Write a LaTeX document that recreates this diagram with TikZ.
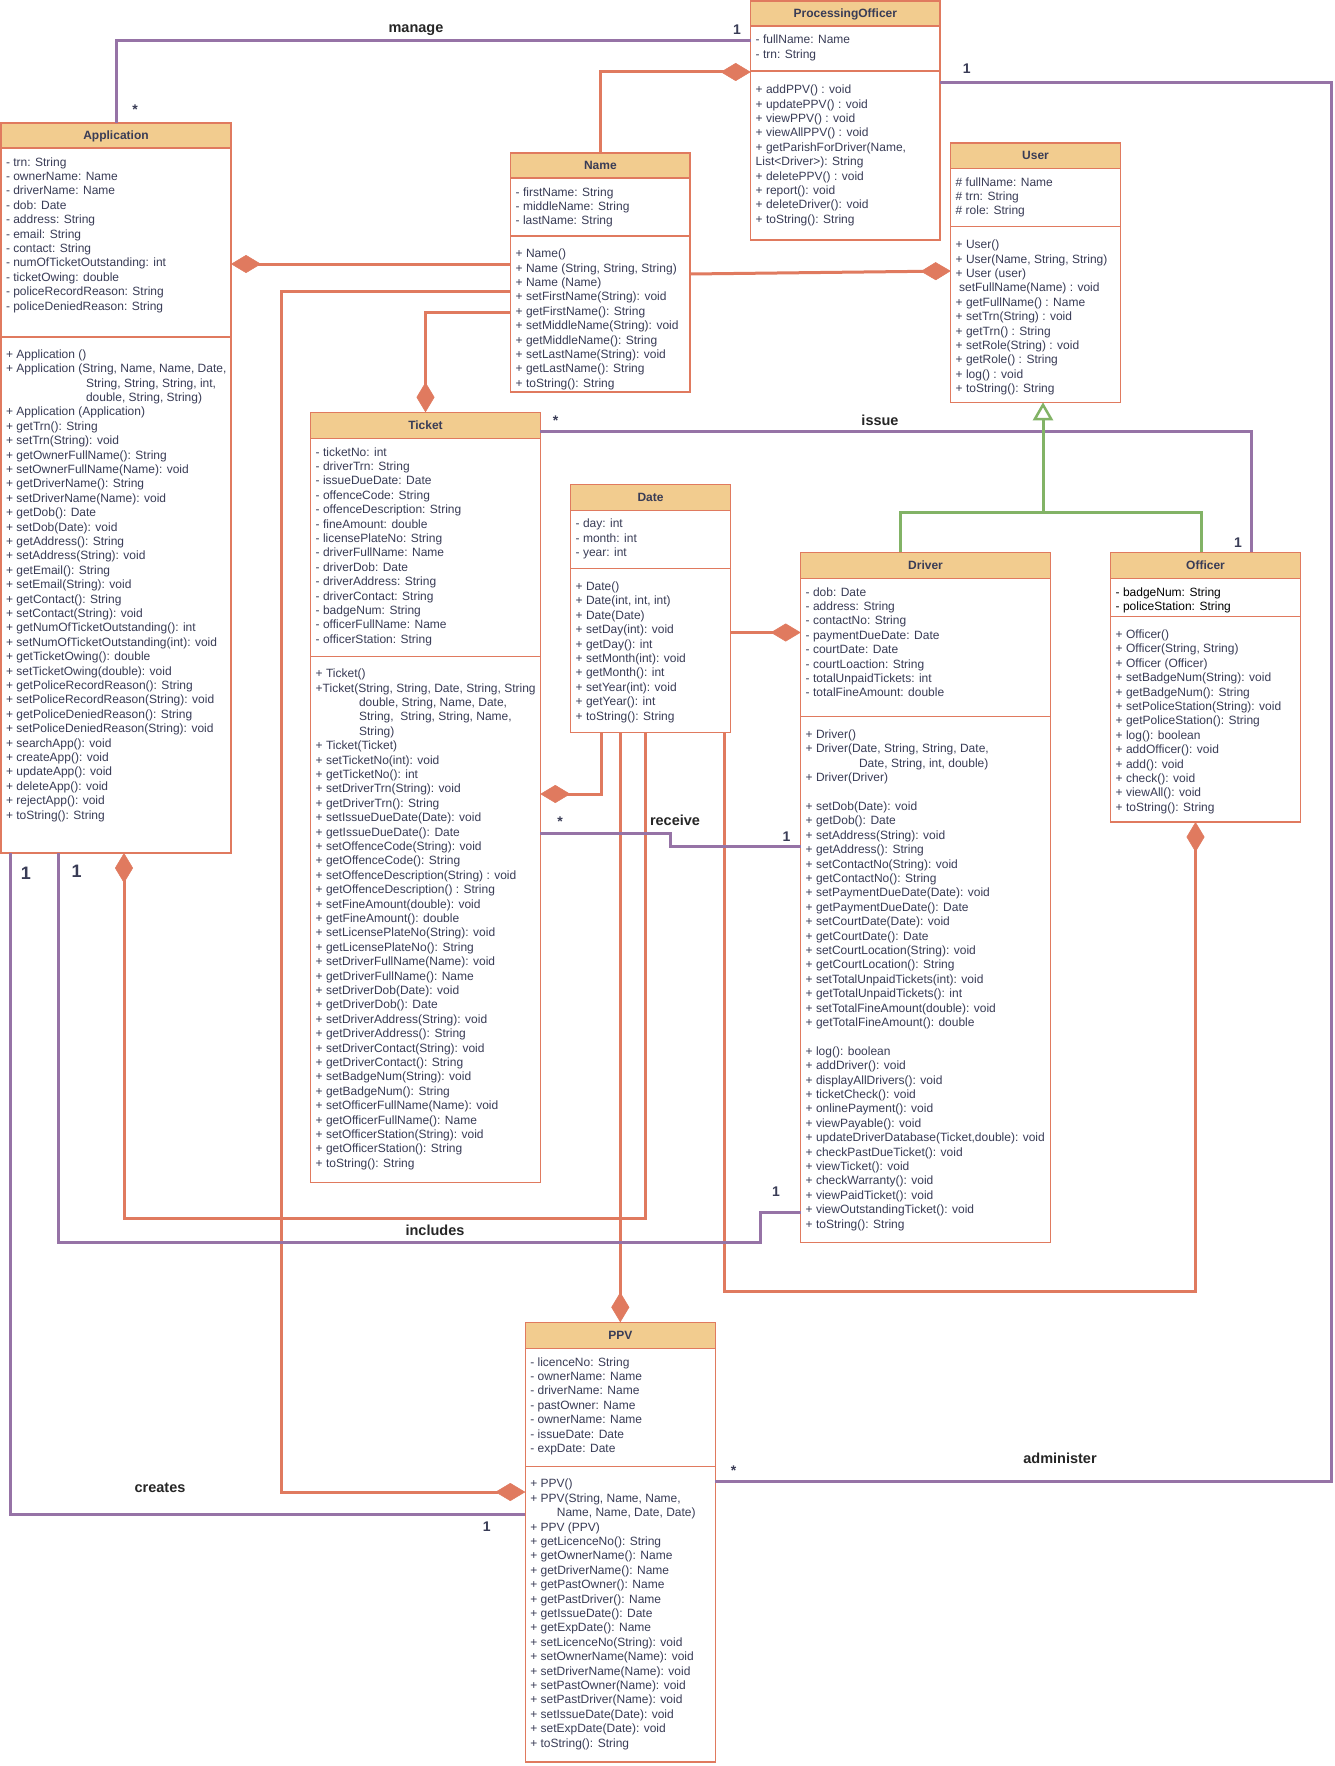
\documentclass[tikz,border=0pt]{standalone}
\usepackage{fontspec}
\setmainfont{Liberation Sans}
\usetikzlibrary{arrows.meta,fit}
\definecolor{hdr}{HTML}{F2CC8F}
\definecolor{brd}{HTML}{E07A5F}
\definecolor{txt}{HTML}{393C56}
\definecolor{pur}{HTML}{9673A6}
\definecolor{grn}{HTML}{82B366}
\newcommand{\umlcls}[8]{%
  \fill[hdr] (#2,#3) rectangle (#4,#5);
  \draw[boxline] (#2,#5) -- (#4,#5) (#2,#6) -- (#4,#6);
  \node[classbox, fit={(#2,#3) (#4,#7)}] (#1) {};
  \node[hdrtext] (#1-t) at ({(#2+#4)/2},{(#3+#5)/2+4.3}) {#8};
}
\begin{document}
\begin{tikzpicture}[x=1pt,y=-1pt,
  classbox/.style={draw=brd,line width=1.2pt,inner sep=0pt,outer sep=0pt},
  boxline/.style={draw=brd,line width=1.2pt},
  hdrtext/.style={font=\fontsize{12pt}{14.4pt}\selectfont\bfseries,text=txt,inner sep=0pt,anchor=base},
  members/.style={font=\fontsize{12pt}{14.4pt}\selectfont,text=txt,align=left,anchor=north west,inner sep=0pt},
  lbl/.style={font=\fontsize{14.5pt}{16pt}\selectfont\bfseries,text=black!85,inner sep=0pt},
  mult/.style={font=\fontsize{14pt}{16pt}\selectfont\bfseries,text=txt,inner sep=0pt},
  bigmult/.style={font=\fontsize{18pt}{20pt}\selectfont\bfseries,text=txt,inner sep=0pt},
  oline/.style={draw=brd,line width=3pt},
  pline/.style={draw=pur,line width=3pt},
  gline/.style={draw=grn,line width=3pt},
  comp/.style={-{Diamond[length=30pt,width=18pt,line width=0.5pt]}},
  gen/.style={-{Triangle[open,fill=white,length=18pt,width=20pt,line width=2.5pt]}},
]
\fill[white] (0,0) rectangle (1334,1766);
\useasboundingbox (0,0) rectangle (1334,1766);

% ---------- classes ----------
\umlcls{app}{1}{123}{231}{148}{337}{853}{Application}
\umlcls{po}{750.7}{1}{940}{26}{71}{240}{ProcessingOfficer}
\umlcls{nm}{510.7}{153}{690}{178}{236}{392}{Name}
\umlcls{usr}{950.7}{143}{1120.3}{168.3}{226.7}{402.3}{User}
\umlcls{tkt}{310.7}{412.3}{540.3}{438.3}{656.3}{1182.3}{Ticket}
\umlcls{dt}{570.7}{484.3}{730.3}{510.3}{568.7}{732.3}{Date}
\umlcls{drv}{800.7}{552.3}{1050.3}{578.3}{716.3}{1242.3}{Driver}
\umlcls{off}{1110.7}{552.3}{1300.3}{578.3}{616.3}{822}{Officer}
\umlcls{ppv}{525.3}{1322.3}{715.3}{1348.3}{1466.7}{1762}{PPV}

% ---------- members ----------
\node[members] (app-a) at (5.8,155.8) {\strut- trn: String\\- ownerName: Name\\- driverName: Name\\- dob: Date\\- address: String\\- email: String\\- contact: String\\- numOfTicketOutstanding: int\\- ticketOwing: double\\- policeRecordReason: String\\- policeDeniedReason: String};
\node[members] (app-m) at (5.8,348) {\strut+ Application ()\\+ Application (String, Name, Name, Date,\\\hspace*{80pt}String, String, String, int,\\\hspace*{80pt}double, String, String)\\+ Application (Application)\\+ getTrn(): String\\+ setTrn(String): void\\+ getOwnerFullName(): String\\+ setOwnerFullName(Name): void\\+ getDriverName(): String\\+ setDriverName(Name): void\\+ getDob(): Date\\+ setDob(Date): void\\+ getAddress(): String\\+ setAddress(String): void\\+ getEmail(): String\\+ setEmail(String): void\\+ getContact(): String\\+ setContact(String): void\\+ getNumOfTicketOutstanding(): int\\+ setNumOfTicketOutstanding(int): void\\+ getTicketOwing(): double\\+ setTicketOwing(double): void\\+ getPoliceRecordReason(): String\\+ setPoliceRecordReason(String): void\\+ getPoliceDeniedReason(): String\\+ setPoliceDeniedReason(String): void\\+ searchApp(): void\\+ createApp(): void\\+ updateApp(): void\\+ deleteApp(): void\\+ rejectApp(): void\\+ toString(): String};

\node[members] (po-a) at (755.5,33.5) {\strut- fullName: Name\\- trn: String};
\node[members] (po-m) at (755.5,83.5) {\strut+ addPPV() : void\\+ updatePPV() : void\\+ viewPPV() : void\\+ viewAllPPV() : void\\+ getParishForDriver(Name,\\List<Driver>): String\\+ deletePPV() : void\\+ report(): void\\+ deleteDriver(): void\\+ toString(): String};

\node[members] (nm-a) at (515.5,185.9) {\strut- firstName: String\\- middleName: String\\- lastName: String};
\node[members] (nm-m) at (515.5,247.5) {\strut+ Name()\\+ Name (String, String, String)\\+ Name (Name)\\+ setFirstName(String): void\\+ getFirstName(): String\\+ setMiddleName(String): void\\+ getMiddleName(): String\\+ setLastName(String): void\\+ getLastName(): String\\+ toString(): String};

\node[members] (usr-a) at (955.5,175.9) {\strut\# fullName: Name\\\# trn: String\\\# role: String};
\node[members] (usr-m) at (955.5,238.5) {\strut+ User()\\+ User(Name, String, String)\\+ User (user)\\\hspace*{3.4pt}setFullName(Name) : void\\+ getFullName() : Name\\+ setTrn(String) : void\\+ getTrn() : String\\+ setRole(String) : void\\+ getRole() : String\\+ log() : void\\+ toString(): String};

\node[members] (tkt-a) at (315.5,445.9) {\strut- ticketNo: int\\- driverTrn: String\\- issueDueDate: Date\\- offenceCode: String\\- offenceDescription: String\\- fineAmount: double\\- licensePlateNo: String\\- driverFullName: Name\\- driverDob: Date\\- driverAddress: String\\- driverContact: String\\- badgeNum: String\\- officerFullName: Name\\- officerStation: String};
\node[members] (tkt-m) at (315.5,667.5) {\strut+ Ticket()\\+Ticket(String, String, Date, String, String\\\hspace*{43.3pt}double, String, Name, Date,\\\hspace*{43.3pt}String, \ String, String, Name,\\\hspace*{43.3pt}String)\\+ Ticket(Ticket)\\+ setTicketNo(int): void\\+ getTicketNo(): int\\+ setDriverTrn(String): void\\+ getDriverTrn(): String\\+ setIssueDueDate(Date): void\\+ getIssueDueDate(): Date\\+ setOffenceCode(String): void\\+ getOffenceCode(): String\\+ setOffenceDescription(String) : void\\+ getOffenceDescription() : String\\+ setFineAmount(double): void\\+ getFineAmount(): double\\+ setLicensePlateNo(String): void\\+ getLicensePlateNo(): String\\+ setDriverFullName(Name): void\\+ getDriverFullName(): Name\\+ setDriverDob(Date): void\\+ getDriverDob(): Date\\+ setDriverAddress(String): void\\+ getDriverAddress(): String\\+ setDriverContact(String): void\\+ getDriverContact(): String\\+ setBadgeNum(String): void\\+ getBadgeNum(): String\\+ setOfficerFullName(Name): void\\+ getOfficerFullName(): Name\\+ setOfficerStation(String): void\\+ getOfficerStation(): String\\+ toString(): String};

\node[members] (dt-a) at (575.5,517.5) {\strut- day: int\\- month: int\\- year: int};
\node[members] (dt-m) at (575.5,580.2) {\strut+ Date()\\+ Date(int, int, int)\\+ Date(Date)\\+ setDay(int): void\\+ getDay(): int\\+ setMonth(int): void\\+ getMonth(): int\\+ setYear(int): void\\+ getYear(): int\\+ toString(): String};

\node[members] (drv-a) at (805.5,585.9) {\strut- dob: Date\\- address: String\\- contactNo: String\\- paymentDueDate: Date\\- courtDate: Date\\- courtLoaction: String\\- totalUnpaidTickets: int\\- totalFineAmount: double};
\node[members] (drv-m) at (805.5,728.2) {\strut+ Driver()\\+ Driver(Date, String, String, Date,\\\hspace*{53.3pt}Date, String, int, double)\\+ Driver(Driver)\\\strut\\+ setDob(Date): void\\+ getDob(): Date\\+ setAddress(String): void\\+ getAddress(): String\\+ setContactNo(String): void\\+ getContactNo(): String\\+ setPaymentDueDate(Date): void\\+ getPaymentDueDate(): Date\\+ setCourtDate(Date): void\\+ getCourtDate(): Date\\+ setCourtLocation(String): void\\+ getCourtLocation(): String\\+ setTotalUnpaidTickets(int): void\\+ getTotalUnpaidTickets(): int\\+ setTotalFineAmount(double): void\\+ getTotalFineAmount(): double\\\strut\\+ log(): boolean\\+ addDriver(): void\\+ displayAllDrivers(): void\\+ ticketCheck(): void\\+ onlinePayment(): void\\+ viewPayable(): void\\+ updateDriverDatabase(Ticket,double): void\\+ checkPastDueTicket(): void\\+ viewTicket(): void\\+ checkWarranty(): void\\+ viewPaidTicket(): void\\+ viewOutstandingTicket(): void\\+ toString(): String};

\node[members,text=black] (off-a) at (1115.5,585.9) {\strut- badgeNum: String\\- policeStation: String};
\node[members] (off-m) at (1115.5,628.2) {\strut+ Officer()\\+ Officer(String, String)\\+ Officer (Officer)\\+ setBadgeNum(String): void\\+ getBadgeNum(): String\\+ setPoliceStation(String): void\\+ getPoliceStation(): String\\+ log(): boolean\\+ addOfficer(): void\\+ add(): void\\+ check(): void\\+ viewAll(): void\\+ toString(): String};

\node[members] (ppv-a) at (530.1,1355.9) {\strut- licenceNo: String\\- ownerName: Name\\- driverName: Name\\- pastOwner: Name\\- ownerName: Name\\- issueDate: Date\\- expDate: Date};
\node[members] (ppv-m) at (530.1,1477.5) {\strut+ PPV()\\+ PPV(String, Name, Name,\\\hspace*{26.6pt}Name, Name, Date, Date)\\+ PPV (PPV)\\+ getLicenceNo(): String\\+ getOwnerName(): Name\\+ getDriverName(): Name\\+ getPastOwner(): Name\\+ getPastDriver(): Name\\+ getIssueDate(): Date\\+ getExpDate(): Name\\+ setLicenceNo(String): void\\+ setOwnerName(Name): void\\+ setDriverName(Name): void\\+ setPastOwner(Name): void\\+ setPastDriver(Name): void\\+ setIssueDate(Date): void\\+ setExpDate(Date): void\\+ toString(): String};

% ---------- connectors ----------
\draw[pline] (app.north) -- (app.north |- 0,40.5) -- (po.west |- 0,40.5);
\draw[oline,comp] (nm.north) |- (po.west |- 0,72);
\draw[oline,comp] (nm.east |- 0,274) -- (usr.west |- 0,271);
\draw[oline,comp] (nm.west |- 0,264) -- (app.east |- 0,264);
\draw[oline,comp] (nm.west |- 0,291) -- (281,291) -- (281,1492) -- (ppv.west |- 0,1492);
\draw[oline,comp] (nm.west |- 0,312) -| (tkt.north);
\draw[pline] (tkt.east |- 0,431.5) -- (1251.5,431.5) -- (off.north -| 1251.5,0);
\draw[oline,comp] (dt.south -| 601,0) -- (601,794) -- (tkt.east |- 0,794);
\draw[oline,comp] (dt.south -| ppv.north) -- (ppv.north);
\draw[oline,comp] (dt.south -| 645,0) -- (645,1218.5) -- (124,1218.5) -- (app.south -| 124,0);
\draw[oline,comp] (dt.south -| 724.5,0) -- (724.5,1291.5) -- (1195.5,1291.5) -- (off.south -| 1195.5,0);
\draw[oline,comp] (dt.east |- 0,632.5) -- (drv.west |- 0,632.5);
\draw[pline] (tkt.east |- 0,833) -- (670,833) -- (670,846.5) -- (drv.west |- 0,846.5);
\draw[pline] (drv.west |- 0,1212) -- (760.5,1212) -- (760.5,1242.5) -- (58,1242.5) -- (app.south -| 58,0);
\draw[pline] (ppv.west |- 0,1514) -- (10,1514) -- (app.south -| 10,0);
\draw[pline] (po.east |- 0,83) -- (1331,83) -- (1331,1481.5) -- (ppv.east |- 0,1481.5);
\draw[gline,gen] (drv.north -| 900,0) -- (900,512.6) -- (1043,512.6) -- (usr.south -| 1043,0);
\draw[gline] (off.north -| 1201,0) -- (1201,512.6) -- (1043,512.6);

% ---------- labels ----------
\node[lbl] (l-manage) at (416,30) {manage};
\node[mult] (m-manage1) at (737,30) {1};
\node[mult] (m-manage2) at (135,110) {*};
\node[lbl] (l-issue) at (880,420) {issue};
\node[mult] (m-issue1) at (555.5,421) {*};
\node[mult] (m-issue2) at (1238,543) {1};
\node[lbl] (l-receive) at (675,820) {receive};
\node[mult] (m-rec1) at (560,822) {*};
\node[mult] (m-rec2) at (786.5,837) {1};
\node[lbl] (l-includes) at (435,1230) {includes};
\node[mult] (m-inc1) at (776,1192) {1};
\node[bigmult] (m-inc2) at (76.6,871) {1};
\node[lbl] (l-creates) at (160,1488) {creates};
\node[mult] (m-cre1) at (486.7,1526.7) {1};
\node[bigmult] (m-cre2) at (26,873) {1};
\node[lbl] (l-admin) at (1060,1458) {administer};
\node[mult] (m-adm1) at (966.7,68.7) {1};
\node[mult] (m-adm2) at (733.5,1471) {*};
\end{tikzpicture}
\end{document}
